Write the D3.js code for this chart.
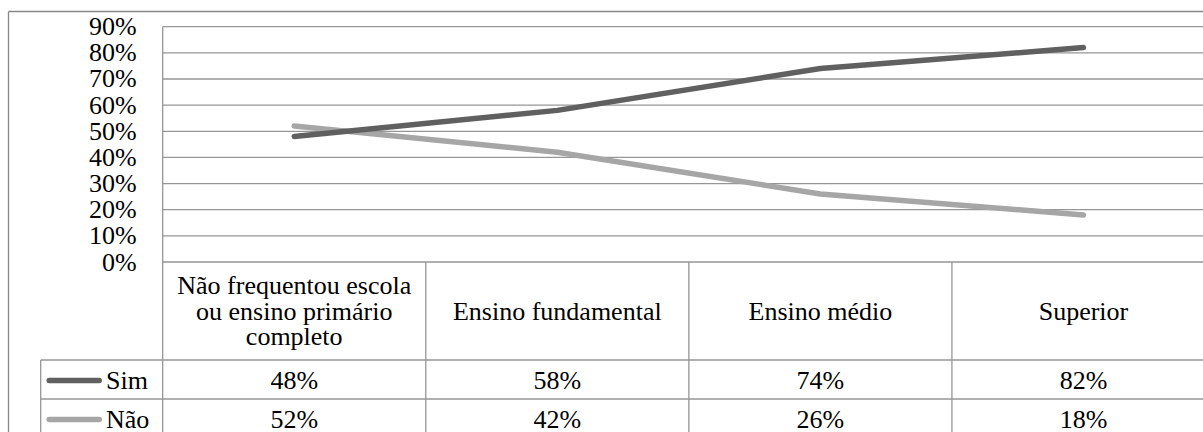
<!DOCTYPE html>
<html>
<head>
<meta charset="utf-8">
<script src="https://cdn.jsdelivr.net/npm/d3@7"></script>
<style>
  html, body { margin: 0; padding: 0; background: #fff; }
</style>
</head>
<body>
<svg id="grafico" width="1203" height="432"></svg>
<script>
// Escolaridade (categorias do eixo X, com quebras de linha)
const categories = [
  "Não frequentou escola\nou ensino primário\ncompleto",
  "Ensino fundamental",
  "Ensino médio",
  "Superior"
];
const seriesNames = ["Sim", "Não"];
const simValues = [0.48, 0.58, 0.74, 0.82];
const naoValues = [0.52, 0.42, 0.26, 0.18];
const tickValues = [0, 0.1, 0.2, 0.3, 0.4, 0.5, 0.6, 0.7, 0.8, 0.9];
const seriesColors = ["#606060", "#a6a6a6"];

const series = [
  { name: seriesNames[0], values: simValues, color: seriesColors[0] },
  { name: seriesNames[1], values: naoValues, color: seriesColors[1] }
];

const svg = d3.select("#grafico");
const fontSize = 26;
const gridColor = "#969696";
const pct = d3.format(".0%");

function addText(parent, x0, y0, str, anchor) {
  return parent.append("text")
    .attr("x", x0).attr("y", y0)
    .attr("text-anchor", anchor || "start")
    .attr("font-family", "Liberation Serif")
    .attr("font-size", fontSize)
    .style("font-family", '"Liberation Serif"')
    .style("font-size", fontSize + "px")
    .text(str);
}

// layout
const W = 1203, H = 432;
const plotLeft = 162.7, plotRight = 1215;
const plotTop = 26.7, plotBottom = 262;
const headerBottom = 360;
const rowH = 39;
const legendLeft = 40.7;

const x = d3.scaleBand().domain(d3.range(categories.length)).range([plotLeft, plotRight]).padding(0);
const y = d3.scaleLinear().domain([0, 0.9]).range([plotBottom, plotTop]);

const lines = svg.append("g").attr("stroke", gridColor).attr("stroke-width", 1.3);

// outer frame (top and left edges; the rest runs past the canvas)
lines.append("line").attr("x1", 8.5).attr("x2", W).attr("y1", 11.5).attr("y2", 11.5).attr("stroke", "#878787");
lines.append("line").attr("x1", 8.5).attr("x2", 8.5).attr("y1", 11.5).attr("y2", H).attr("stroke", "#878787");

// horizontal gridlines
tickValues.forEach(t => {
  lines.append("line").attr("x1", plotLeft).attr("x2", W).attr("y1", y(t)).attr("y2", y(t));
});
// value axis line
lines.append("line").attr("x1", plotLeft).attr("x2", plotLeft).attr("y1", y(0.9)).attr("y2", y(0));

// data table grid
d3.range(categories.length).forEach(i => {
  lines.append("line").attr("x1", x(i)).attr("x2", x(i)).attr("y1", plotBottom).attr("y2", H);
});
lines.append("line").attr("x1", legendLeft).attr("x2", legendLeft).attr("y1", headerBottom).attr("y2", H);
[headerBottom, headerBottom + rowH].forEach(ry => {
  lines.append("line").attr("x1", legendLeft).attr("x2", W).attr("y1", ry).attr("y2", ry);
});

const labels = svg.append("g");

// value axis labels
tickValues.forEach(t => {
  addText(labels, plotLeft - 26, y(t) + 8.5, pct(t), "end");
});

// category headers
const lineH = 25.3;
categories.forEach((c, i) => {
  const parts = c.split("\n");
  const cx = x(i) + x.bandwidth() / 2;
  const cy = (plotBottom + headerBottom) / 2;
  parts.forEach((ln, k) => {
    addText(labels, cx, cy + (k - (parts.length - 1) / 2) * lineH + 8.5, ln, "middle");
  });
});

// table rows: legend key + values
series.forEach((s, r) => {
  const cy = headerBottom + r * rowH + rowH / 2;
  svg.append("line")
    .attr("x1", 49.2).attr("x2", 99.2)
    .attr("y1", cy + 1).attr("y2", cy + 1)
    .attr("stroke", s.color).attr("stroke-width", 5.5)
    .attr("stroke-linecap", "round");
  addText(labels, 106, cy + 9.5, s.name, "start");
  s.values.forEach((v, i) => {
    addText(labels, x(i) + x.bandwidth() / 2, cy + 9.5, pct(v), "middle");
  });
});

// series lines
const line = d3.line()
  .x((d, i) => x(i) + x.bandwidth() / 2)
  .y(d => y(d));

series.slice().reverse().forEach(s => {
  svg.append("path")
    .datum(s.values)
    .attr("d", line)
    .attr("fill", "none")
    .attr("stroke", s.color)
    .attr("stroke-width", 5.5)
    .attr("stroke-linecap", "round")
    .attr("stroke-linejoin", "round");
});
</script>
</body>
</html>
